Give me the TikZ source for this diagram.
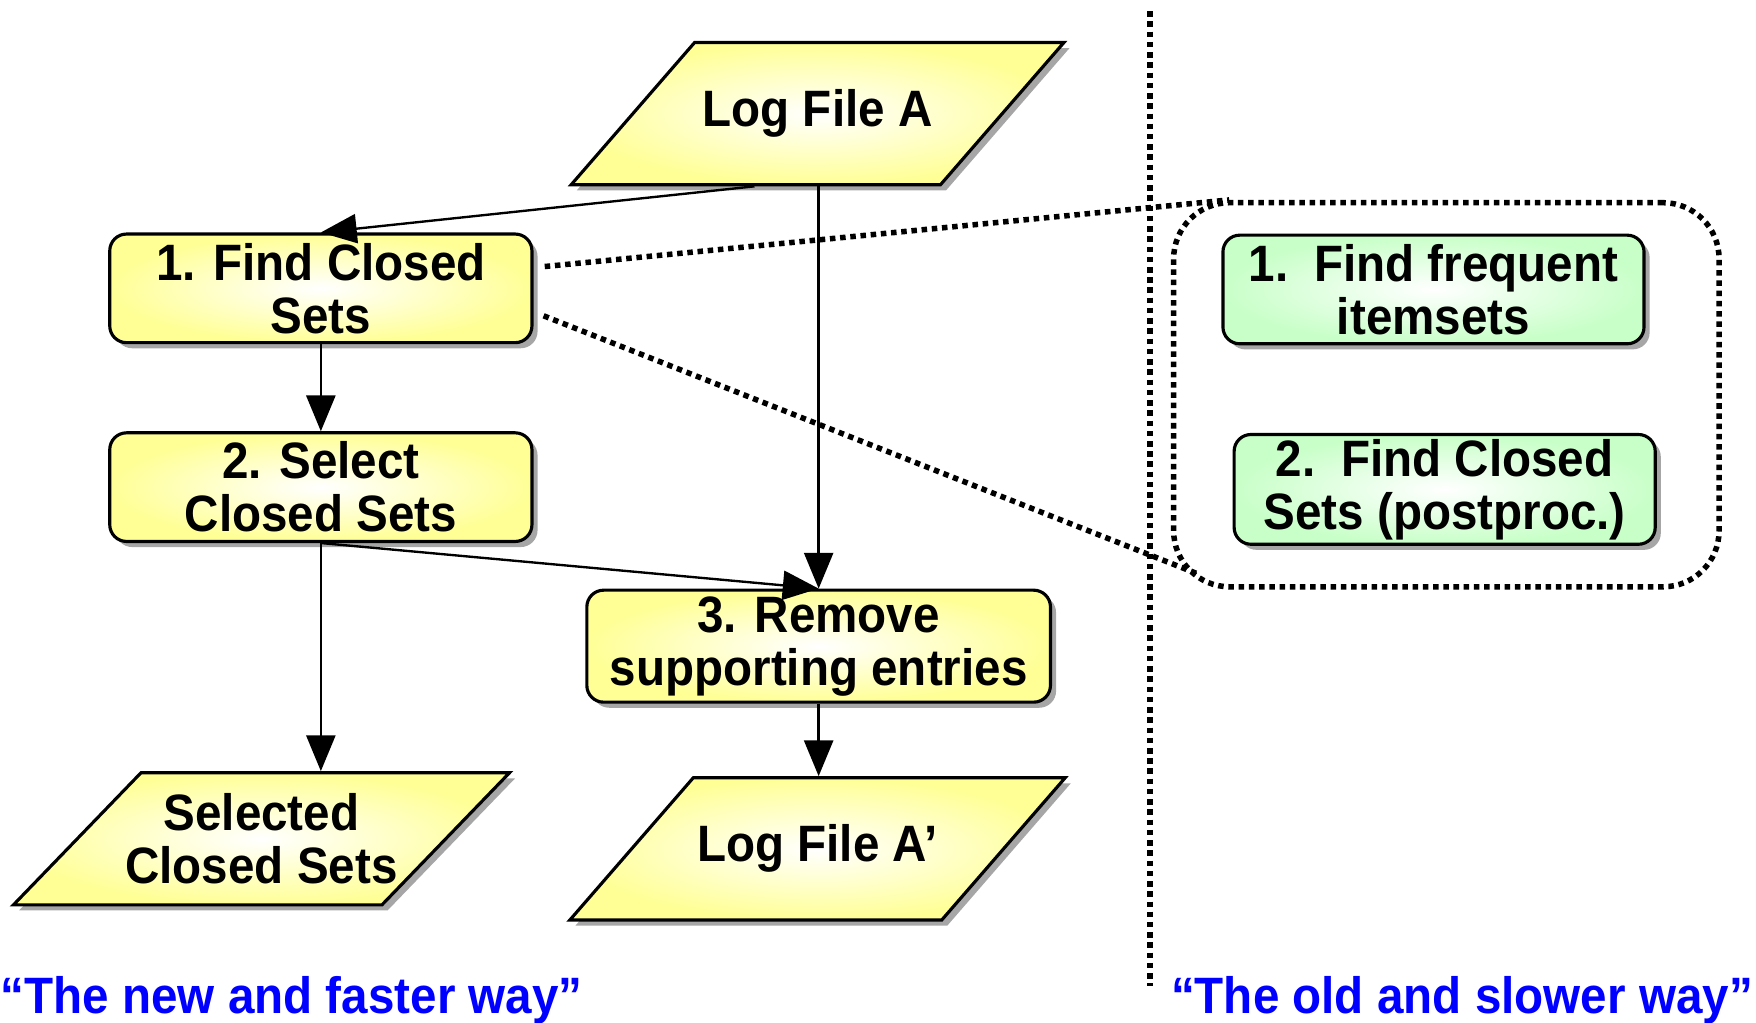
\documentclass[tikz,border=0pt]{standalone}
\usepackage{fontspec}
\setmainfont{Liberation Sans}[FakeStretch=0.93]
\usetikzlibrary{shapes.geometric,shadows,calc,arrows.meta}
\definecolor{fileyellow}{RGB}{255,255,150}
\definecolor{oldgreen}{RGB}{200,255,200}
\definecolor{wayblue}{RGB}{0,0,255}
\tikzset{
  stepbox/.style={draw, line width=0.8pt, rounded corners=0.15cm, minimum width=3.77cm,
    minimum height=0.97cm, inner sep=1pt, align=center,
    font=\bfseries\fontsize{13}{13.5}\selectfont,
    shade, inner color=white, outer color=fileyellow,
    drop shadow={shadow xshift=0.5mm, shadow yshift=-0.5mm, fill=black!35, opacity=1}},
  oldbox/.style={stepbox, outer color=oldgreen},
  filebox/.style={stepbox, rounded corners=0pt, trapezium, trapezium left angle=49,
    trapezium right angle=131, trapezium stretches body, inner ysep=0.42cm,
    minimum width=4.4cm, minimum height=1.27cm},
  flow/.style={-{Triangle[length=3.2mm,width=2.6mm]}, line width=0.6pt},
  link/.style={line width=1.4pt, dash pattern=on 1.4pt off 1.2pt},
  waylabel/.style={text=wayblue, inner sep=0pt, font=\bfseries\fontsize{13}{13.5}\selectfont}
}
\begin{document}
\begin{tikzpicture}
  \useasboundingbox (0,0) rectangle (15.68,9.13);
  \node[filebox] (logA) at (7.30,8.115) {Log File A};
  \node[stepbox] (find) at (2.865,6.555) {1. Find Closed\\Sets};
  \node[stepbox] (sel) at (2.865,4.78) {2. Select\\Closed Sets};
  \node[stepbox, minimum width=4.14cm, minimum height=1.0cm] (rem) at (7.31,3.36) {3. Remove\\supporting entries};
  \node[filebox] (logB) at (7.30,1.55) {Log File A’};
  \node[filebox, trapezium left angle=46, trapezium right angle=134, inner ysep=0.185cm,
    inner xsep=-0.15cm, minimum width=4.43cm, minimum height=1.18cm] (selset) at (2.335,1.64) {Selected\\Closed Sets};

  \draw[flow] ($(logA.bottom left corner)!0.5!(logA.bottom right corner)$) -- (find.north);
  \draw[flow] (rem.north |- logA.south) -- (rem.north);
  \draw[flow] (find.south) -- (sel.north);
  \draw[flow] (sel.south) -- (sel.south |- selset.north);
  \draw[flow] (sel.south) -- (rem.north);
  \draw[flow] (rem.south) -- (rem.south |- logB.north);

  \coordinate (divtop) at (10.27,9.03);
  \coordinate (divbot) at (10.27,0.33);
  \draw[link] (divtop) -- (divbot);

  \node[draw, link, rounded corners=0.5cm, minimum width=4.87cm, minimum height=3.43cm] (oldway) at (12.915,5.605) {};
  \node[oldbox, minimum width=3.76cm] (freq) at (12.80,6.545) {1.\enspace Find frequent\\itemsets};
  \node[oldbox, minimum width=3.76cm, minimum height=0.98cm] (post) at (12.90,4.76) {2.\enspace Find Closed\\Sets (postproc.)};

  \draw[link] ($(find.east)+(0.1,0.195)$) -- ($(oldway.north west)+(0.52,0)$);
  \draw[link] ($(find.east)+(0.09,-0.245)$) -- ($(oldway.south west)+(0.24,0.14)$);

  \node[waylabel, anchor=base west] (newlbl) at (0,0.08) {“The new and faster way”};
  \node[waylabel, anchor=base west] (oldlbl) at (10.45,0.08) {“The old and slower way”};
\end{tikzpicture}
\end{document}
